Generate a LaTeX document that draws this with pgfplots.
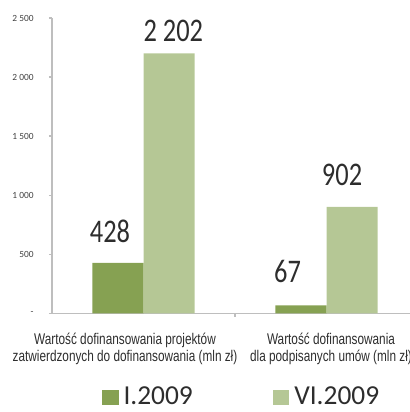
\documentclass[border=0pt]{standalone}
\usepackage{pgfplots}
\pgfplotsset{compat=1.18}
\usepackage{fontspec}
\setmainfont{Carlito}
\newfontfamily\valfont[FakeStretch=0.8]{Carlito}
\newfontfamily\narrowfont[FakeStretch=0.76]{Liberation Sans}
\definecolor{darkbar}{RGB}{134,161,82}
\definecolor{lightbar}{RGB}{181,199,149}
\definecolor{axgray}{RGB}{190,190,190}
\definecolor{txt}{RGB}{45,45,45}
\begin{document}
\begin{tikzpicture}
\begin{axis}[
  scale only axis,
  width=183pt, height=147.5pt,
  xmin=-0.5, xmax=1.5,
  ymin=0, ymax=2500,
  axis x line=bottom, axis y line=left,
  axis line style={-, draw=axgray, line width=0.8pt},
  tick style={draw=axgray, line width=0.8pt},
  tick align=outside,
  major tick length=1.6pt,
  xtick={0.5}, xticklabels={},
  ytick={0,500,1000,1500,2000,2500},
  yticklabels={{-\hspace{5.2pt}},500,1 000,1 500,2 000,2 500},
  yticklabel style={anchor=east, inner sep=0pt, xshift=-7.4pt,
    font=\fontsize{4.7pt}{5pt}\selectfont, text=black!75},
  clip=false,
  ybar=0pt, bar width=0.28,
  legend columns=2,
  legend image code/.code={\fill[#1] (0pt,-3.9pt) rectangle (8.2pt,3.9pt);},
  legend style={draw=none, fill=none, at={(0.1358,-0.2854)}, anchor=west,
    inner sep=0pt, column sep=2.5pt,
    /tikz/every even column/.append style={column sep=40pt},
    font=\fontsize{13.7pt}{16pt}\selectfont,
    nodes={inner sep=0pt, text=txt}},
]
\addplot[draw=none, fill=darkbar, bar shift=-0.14] coordinates {(0,428) (1,67)};
\addlegendentry{I.2009}
\addplot[draw=none, fill=lightbar, bar shift=0.14] coordinates {(0,2202) (1,902)};
\addlegendentry{VI.2009}

\node[anchor=base, text=txt, font=\valfont\fontsize{16.5pt}{18pt}\selectfont] at (axis cs:-0.183,604) {428};
\node[anchor=base, text=txt, font=\valfont\fontsize{16.5pt}{18pt}\selectfont] at (axis cs:0.163,2302) {2 202};
\node[anchor=base, text=txt, font=\valfont\fontsize{16.5pt}{18pt}\selectfont] at (axis cs:0.787,259) {67};
\node[anchor=base, text=txt, font=\valfont\fontsize{16.5pt}{18pt}\selectfont] at (axis cs:1.085,1079) {902};

\node[anchor=base, text=txt, font=\narrowfont\fontsize{7.75pt}{9pt}\selectfont, yshift=-15.35pt] at (axis cs:-0.101,0) {Wartość dofinansowania projektów};
\node[anchor=base, text=txt, font=\narrowfont\fontsize{7.75pt}{9pt}\selectfont, yshift=-24.2pt] at (axis cs:-0.101,0) {zatwierdzonych do dofinansowania (mln zł)};
\node[anchor=base, text=txt, font=\narrowfont\fontsize{7.75pt}{9pt}\selectfont, yshift=-15.35pt] at (axis cs:1.0246,0) {Wartość dofinansowania};
\node[anchor=base, text=txt, font=\narrowfont\fontsize{7.75pt}{9pt}\selectfont, yshift=-24.2pt] at (axis cs:1.0246,0) {dla podpisanych umów (mln zł)};
\end{axis}
\pgfresetboundingbox
\useasboundingbox (-26pt,156.65pt) rectangle (179pt,-49.35pt);
\end{tikzpicture}
\end{document}
